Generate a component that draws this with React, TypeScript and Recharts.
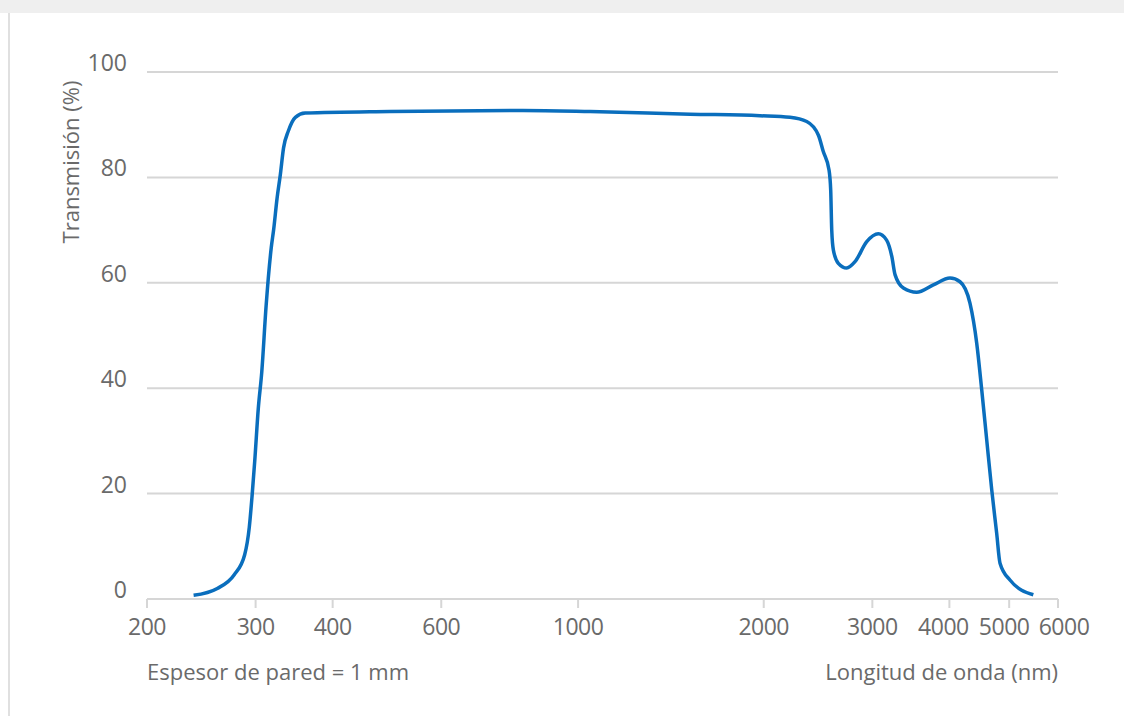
import { LineChart, Line, XAxis, YAxis, CartesianGrid } from 'recharts';

// wavelength in nm (log axis)
const wavelengths = [
  238, 260, 277, 288, 293, 296, 299, 303, 307, 312,
  318, 321, 325, 329, 333, 339, 348, 361,
  495, 814, 1046, 1519, 1972, 2206,
  2348, 2453, 2498, 2552, 2568, 2578, 2594, 2642, 2726, 2812,
  2938, 3068, 3164, 3226, 3266, 3369, 3540, 3767, 4009, 4162,
  4320, 4430, 4513, 4598, 4685, 4772, 4832, 5015, 5472,
];

// transmission in %
const transmission = [
  0.7, 2.0, 4.6, 8.4, 13.6, 19.4, 26.1, 36.1, 43.1, 55.6,
  66.6, 70.2, 76.0, 80.5, 85.6, 88.8, 91.4, 92.2,
  92.5, 92.7, 92.5, 92.0, 91.7, 91.4,
  90.6, 88.0, 84.9, 81.4, 77.6, 70.0, 66.2, 63.7, 62.8, 64.0,
  67.8, 69.3, 68.1, 65.0, 61.5, 59.0, 58.2, 59.6, 60.9, 60.2,
  56.1, 48.5, 39.7, 30.2, 20.7, 12.5, 6.8, 3.6, 0.8,
];

const xTicks = [200, 300, 400, 600, 1000, 2000, 3000, 4000, 5000, 6000];
const yTicks = [0, 20, 40, 60, 80, 100];

const data = wavelengths.map((w, i) => ({ w, t: transmission[i] }));

const FONT = '"Open Sans", sans-serif';
const TEXT = '#6a6a6a';
const GRID = '#d6d6d6';

// crowded labels at the right end are nudged apart, as in the original
const labelNudge: Record<number, number> = { 4000: -6, 5000: -5, 6000: 6 };

const YTick = (props: any) => {
  const { y, payload } = props;
  return (
    <text x={127} y={y - 1} textAnchor="end" fill={TEXT} fontSize={23} fontFamily={FONT}>
      {payload.value}
    </text>
  );
};

const XTick = (props: any) => {
  const { x, payload } = props;
  const dx = labelNudge[payload.value] || 0;
  return (
    <text x={x + dx} y={635} textAnchor="middle" fill={TEXT} fontSize={23} fontFamily={FONT} letterSpacing={-0.5}>
      {payload.value}
    </text>
  );
};

export default function App() {
  return (
    <div style={{ position: 'fixed', left: 0, top: 0, width: 1124, height: 716, background: '#fff', fontFamily: FONT }}>
      <div style={{ position: 'absolute', left: 0, top: 0, width: 1124, height: 13, background: '#efefef' }} />
      <div style={{ position: 'absolute', left: 8, top: 13, width: 2, height: 703, background: '#e0e0e0' }} />

      <LineChart width={1124} height={716} data={data} margin={{ top: 72, right: 66, bottom: 77, left: 87 }}>
        <CartesianGrid horizontal vertical={false} stroke={GRID} strokeWidth={2} />
        <XAxis
          dataKey="w"
          type="number"
          scale="log"
          domain={[200, 6000]}
          ticks={xTicks}
          interval={0}
          height={40}
          stroke={GRID}
          strokeWidth={2}
          tickSize={9}
          tick={<XTick />}
        />
        <YAxis
          type="number"
          domain={[0, 100]}
          ticks={yTicks}
          width={60}
          axisLine={false}
          tickLine={false}
          tick={<YTick />}
        />
        <Line
          type="monotone"
          dataKey="t"
          stroke="#0a6ebd"
          strokeWidth={3.5}
          dot={false}
          isAnimationActive={false}
        />
      </LineChart>

      <div style={{ position: 'absolute', left: 70, top: 162, width: 0, height: 0 }}>
        <div style={{ position: 'absolute', transform: 'translate(-50%, -50%) rotate(-90deg)', whiteSpace: 'nowrap', fontSize: 22, color: TEXT }}>
          Transmisión (%)
        </div>
      </div>
      <div style={{ position: 'absolute', left: 147, top: 656, fontSize: 22, color: TEXT, whiteSpace: 'nowrap' }}>
        Espesor de pared = 1 mm
      </div>
      <div style={{ position: 'absolute', right: 1124 - 1058, top: 656, fontSize: 22, color: TEXT, whiteSpace: 'nowrap' }}>
        Longitud de onda (nm)
      </div>
    </div>
  );
}
